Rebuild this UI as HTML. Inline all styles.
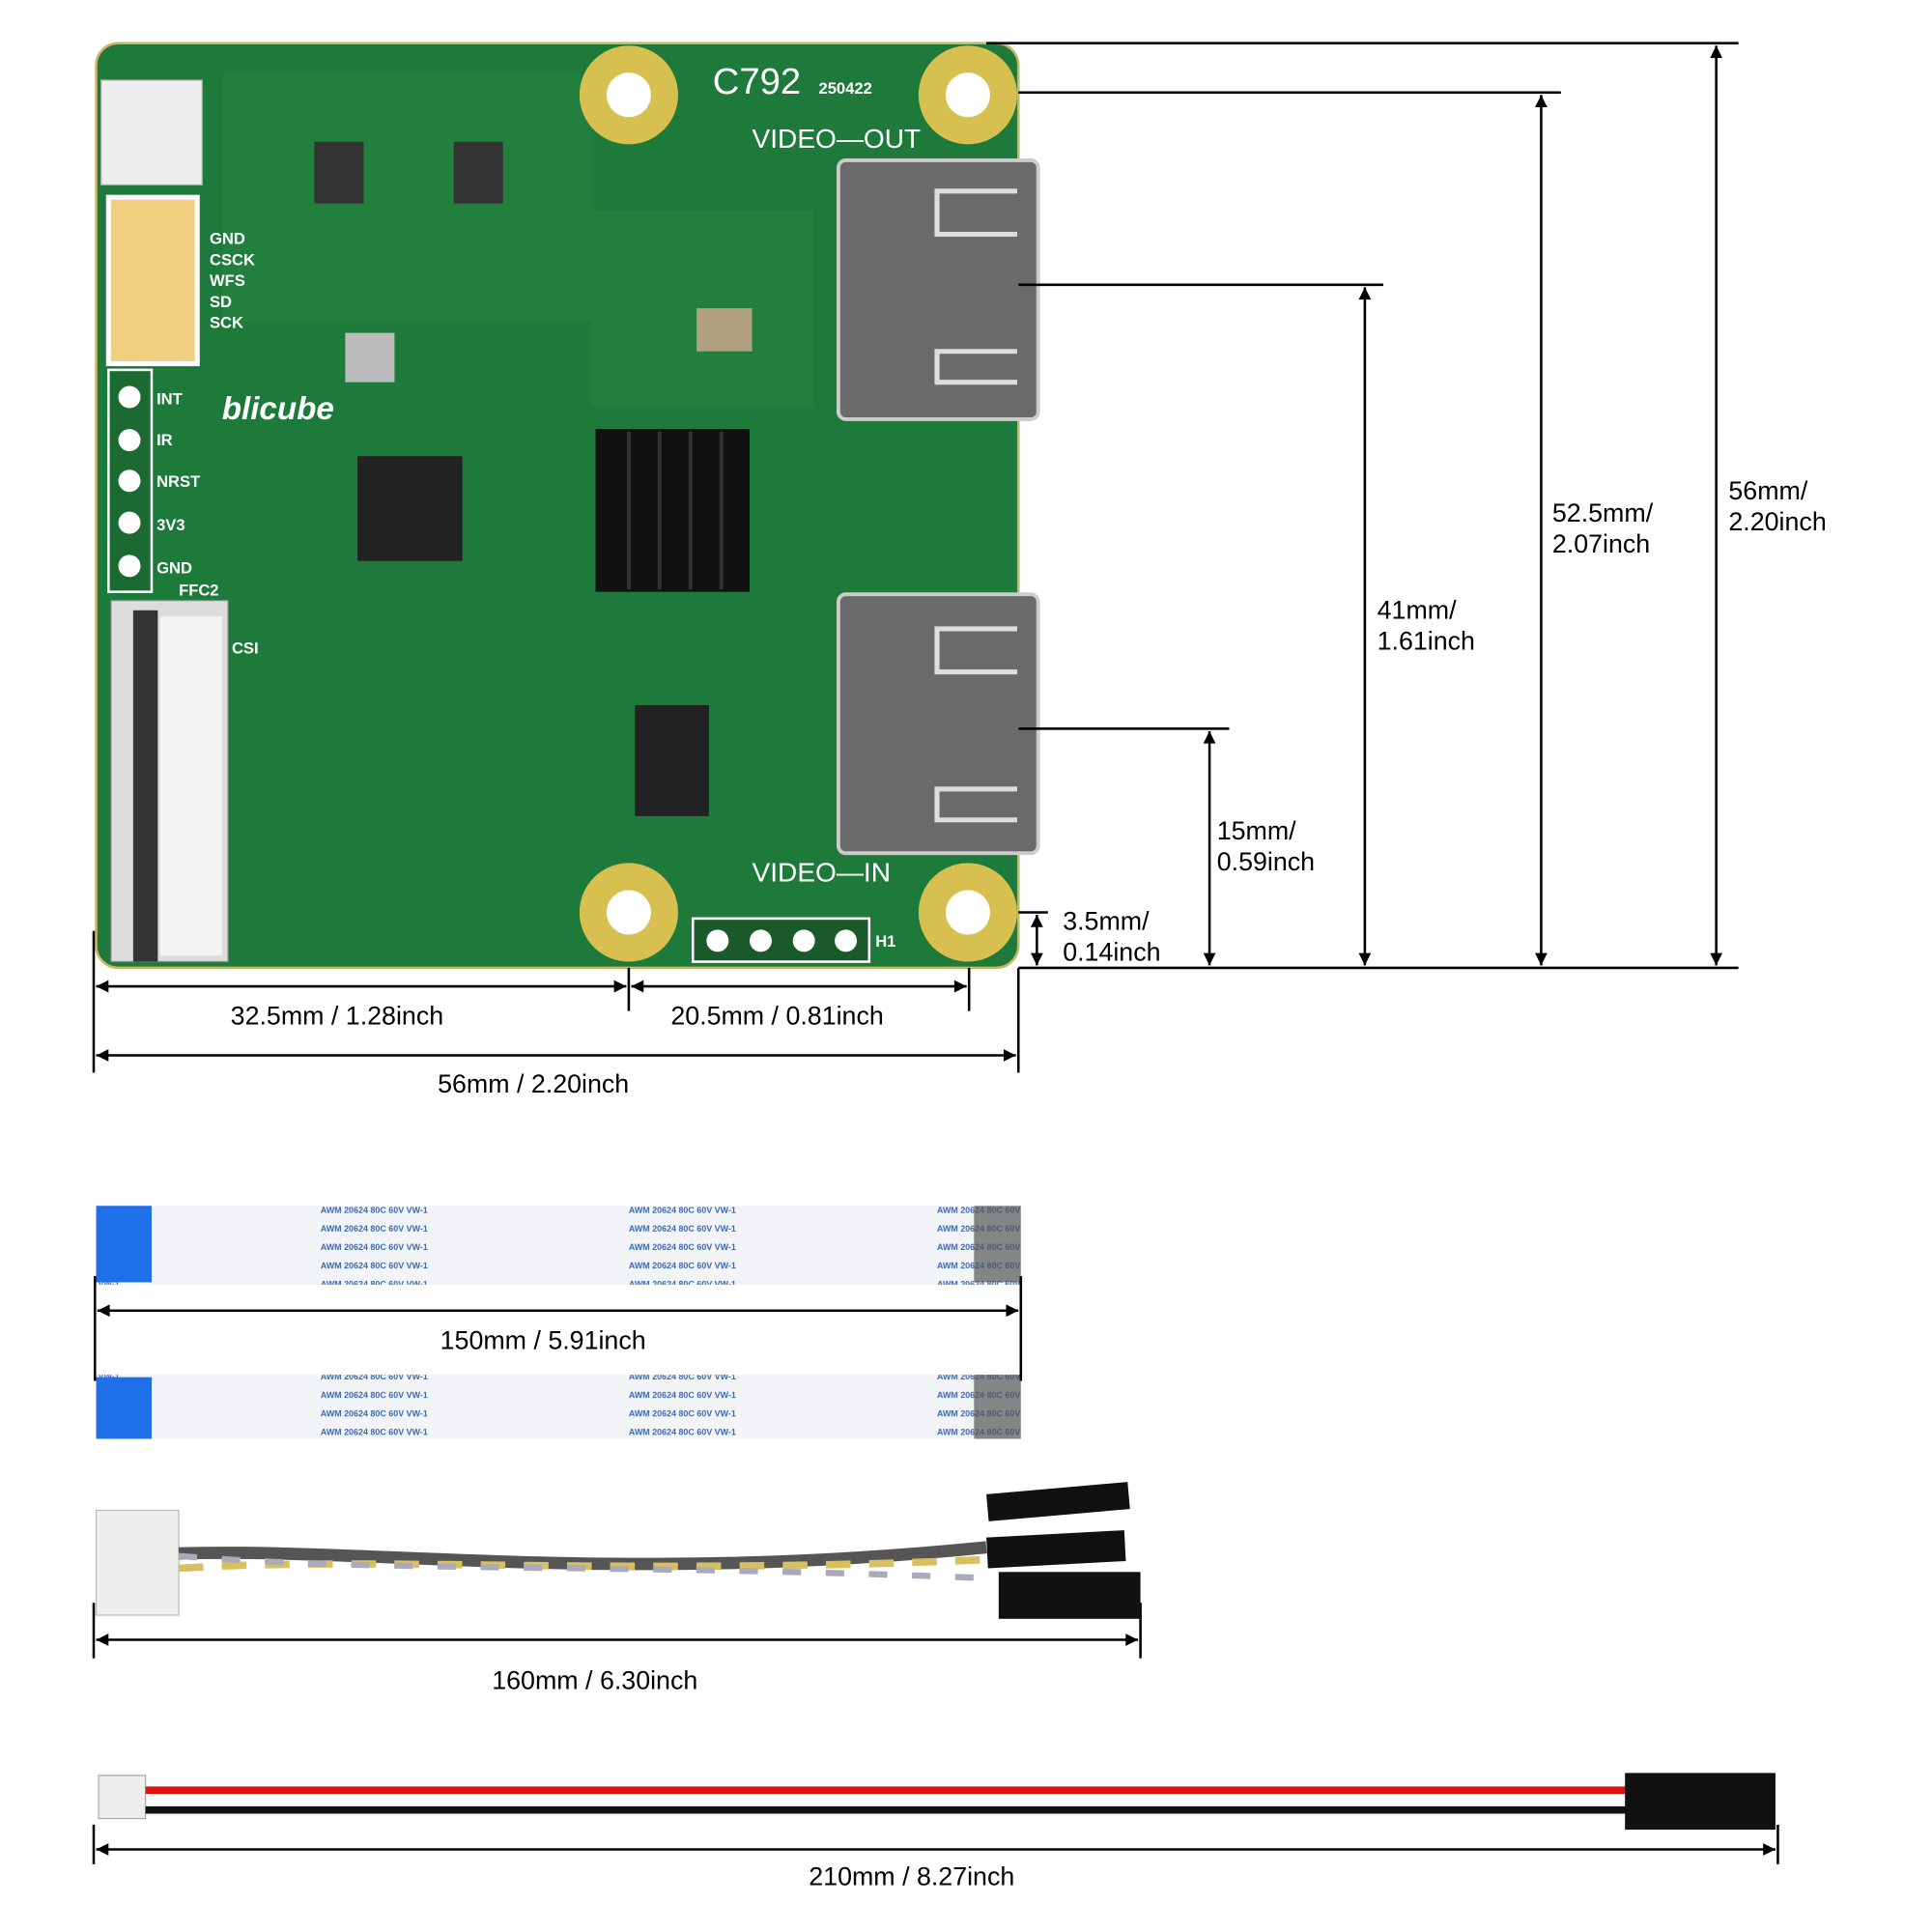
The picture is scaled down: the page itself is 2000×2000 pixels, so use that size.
<!DOCTYPE html>
<html><head><meta charset="utf-8"><style>
html,body{margin:0;padding:0;background:#fff;width:2000px;height:2000px;overflow:hidden}
svg{display:block}
text{font-family:"Liberation Sans","DejaVu Sans",sans-serif}
</style></head><body>
<svg width="2000" height="2000" viewBox="0 0 1567 1567" xmlns="http://www.w3.org/2000/svg">
<defs>
<marker id="a" viewBox="0 0 10 10" refX="10" refY="5" markerWidth="14" markerHeight="10" orient="auto-start-reverse" markerUnits="userSpaceOnUse"><path d="M0,0 L10,5 L0,10 z" fill="#000"/></marker>
<pattern id="ffc" width="250" height="15" patternUnits="userSpaceOnUse"><text x="10" y="9" font-size="7" fill="#3a6ab0" font-weight="bold">AWM  20624  80C  60V  VW-1</text></pattern>
</defs>
<rect x="78" y="35" width="748" height="750" rx="18" fill="#1e7a3a"/>
<rect x="78" y="35" width="748" height="750" rx="18" fill="none" stroke="#c9b56a" stroke-width="2"/>
<g fill="#2a8a45" opacity="0.35"><rect x="180" y="60" width="300" height="200"/><rect x="480" y="170" width="180" height="160"/></g>
<g fill="#d7c050"><circle cx="510" cy="77" r="40"/><circle cx="785" cy="77" r="40"/><circle cx="510" cy="740" r="40"/><circle cx="785" cy="740" r="40"/></g>
<g fill="#fff"><circle cx="510" cy="77" r="18"/><circle cx="785" cy="77" r="18"/><circle cx="510" cy="740" r="18"/><circle cx="785" cy="740" r="18"/></g>
<g fill="#6a6a6a" stroke="#ccc" stroke-width="3"><rect x="680" y="130" width="162" height="210" rx="6"/><rect x="680" y="482" width="162" height="210" rx="6"/></g>
<g fill="none" stroke="#ddd" stroke-width="4"><path d="M825 155 H760 V190 H825"/><path d="M825 285 H760 V310 H825"/><path d="M825 510 H760 V545 H825"/><path d="M825 640 H760 V665 H825"/></g>
<rect x="483" y="348" width="125" height="132" fill="#111"/>
<g stroke="#333" stroke-width="3"><line x1="510" y1="350" x2="510" y2="478"/><line x1="535" y1="350" x2="535" y2="478"/><line x1="560" y1="350" x2="560" y2="478"/><line x1="585" y1="350" x2="585" y2="478"/></g>
<rect x="290" y="370" width="85" height="85" fill="#222"/>
<rect x="515" y="572" width="60" height="90" fill="#222"/>
<g fill="#333"><rect x="255" y="115" width="40" height="50"/><rect x="368" y="115" width="40" height="50"/><rect x="280" y="270" width="40" height="40" fill="#bbb"/><rect x="565" y="250" width="45" height="35" fill="#b0a080"/></g>
<rect x="82" y="65" width="82" height="85" fill="#eee" stroke="#aaa"/>
<rect x="88" y="160" width="72" height="135" fill="#f0d080" stroke="#fff" stroke-width="4"/>
<rect x="88" y="300" width="35" height="180" fill="#1a6a32" stroke="#fff" stroke-width="2"/>
<g fill="#fff"><circle cx="105" cy="322" r="9"/><circle cx="105" cy="357" r="9"/><circle cx="105" cy="390" r="9"/><circle cx="105" cy="424" r="9"/><circle cx="105" cy="459" r="9"/></g>
<rect x="90" y="487" width="95" height="293" fill="#ddd" stroke="#888"/>
<rect x="108" y="495" width="20" height="285" fill="#333"/>
<rect x="130" y="500" width="50" height="275" fill="#f4f4f4"/>
<rect x="562" y="745" width="143" height="35" fill="#1a5a2a" stroke="#fff" stroke-width="2"/>
<g fill="#fff"><circle cx="582" cy="763" r="9"/><circle cx="617" cy="763" r="9"/><circle cx="652" cy="763" r="9"/><circle cx="686" cy="763" r="9"/></g>
<g fill="#fff" font-size="13" font-weight="bold">
<text x="127" y="328">INT</text><text x="127" y="361">IR</text><text x="127" y="395">NRST</text><text x="127" y="430">3V3</text><text x="127" y="465">GND</text>
<text x="170" y="198">GND</text><text x="170" y="215">CSCK</text><text x="170" y="232">WFS</text><text x="170" y="249">SD</text><text x="170" y="266">SCK</text>
<text x="180" y="340" font-size="26" font-style="italic">blicube</text>
<text x="578" y="76" font-size="30" font-weight="normal">C792</text><text x="664" y="76" font-size="13">250422</text>
<text x="610" y="120" font-size="22" font-weight="normal">VIDEO—OUT</text>
<text x="610" y="715" font-size="22" font-weight="normal">VIDEO—IN</text>
<text x="145" y="483">FFC2</text><text x="188" y="530">CSI</text><text x="710" y="768">H1</text>
</g>
<g stroke="#000" stroke-width="2" fill="none">
<line x1="800" y1="35" x2="1410" y2="35"/><line x1="826" y1="75" x2="1266" y2="75"/>
<line x1="826" y1="231" x2="1122" y2="231"/><line x1="826" y1="591" x2="997" y2="591"/>
<line x1="826" y1="785" x2="1410" y2="785"/><line x1="826" y1="785" x2="826" y2="870"/>
<line x1="826" y1="740" x2="850" y2="740"/>
<line x1="1392" y1="37" x2="1392" y2="783" marker-start="url(#a)" marker-end="url(#a)"/>
<line x1="1250" y1="77" x2="1250" y2="783" marker-start="url(#a)" marker-end="url(#a)"/>
<line x1="1107" y1="233" x2="1107" y2="783" marker-start="url(#a)" marker-end="url(#a)"/>
<line x1="981" y1="593" x2="981" y2="783" marker-start="url(#a)" marker-end="url(#a)"/>
<line x1="841" y1="742" x2="841" y2="783" marker-start="url(#a)" marker-end="url(#a)"/>
<line x1="76" y1="755" x2="76" y2="870"/><line x1="510" y1="785" x2="510" y2="820"/><line x1="786" y1="785" x2="786" y2="820"/>
<line x1="78" y1="800" x2="508" y2="800" marker-start="url(#a)" marker-end="url(#a)"/>
<line x1="512" y1="800" x2="784" y2="800" marker-start="url(#a)" marker-end="url(#a)"/>
<line x1="78" y1="856" x2="824" y2="856" marker-start="url(#a)" marker-end="url(#a)"/>
</g>
<g font-size="21" fill="#000">
<text x="1402" y="405">56mm/</text><text x="1402" y="430">2.20inch</text>
<text x="1259" y="423">52.5mm/</text><text x="1259" y="448">2.07inch</text>
<text x="1117" y="502">41mm/</text><text x="1117" y="527">1.61inch</text>
<text x="987" y="681">15mm/</text><text x="987" y="706">0.59inch</text>
<text x="862" y="754">3.5mm/</text><text x="862" y="779">0.14inch</text>
<text x="187" y="831">32.5mm / 1.28inch</text>
<text x="544" y="831">20.5mm / 0.81inch</text>
<text x="355" y="886">56mm / 2.20inch</text>
<text x="357" y="1094">150mm / 5.91inch</text>
<text x="399" y="1370">160mm / 6.30inch</text>
<text x="656" y="1529">210mm / 8.27inch</text>
</g>
<rect x="78" y="978" width="750" height="64" fill="#f2f4f8"/><rect x="78" y="978" width="750" height="64" fill="url(#ffc)"/>
<rect x="78" y="978" width="45" height="62" fill="#1f6fe8"/><rect x="790" y="978" width="38" height="62" fill="#555" opacity="0.7"/>
<rect x="78" y="1115" width="750" height="52" fill="#f2f4f8"/><rect x="78" y="1115" width="750" height="52" fill="url(#ffc)"/>
<rect x="78" y="1117" width="45" height="50" fill="#1f6fe8"/><rect x="790" y="1115" width="38" height="52" fill="#555" opacity="0.7"/>
<g stroke="#000" stroke-width="2" fill="none">
<line x1="77" y1="1035" x2="77" y2="1120"/><line x1="828" y1="1035" x2="828" y2="1120"/>
<line x1="79" y1="1063" x2="826" y2="1063" marker-start="url(#a)" marker-end="url(#a)"/>
<line x1="76" y1="1300" x2="76" y2="1345"/><line x1="925" y1="1300" x2="925" y2="1345"/>
<line x1="78" y1="1330" x2="923" y2="1330" marker-start="url(#a)" marker-end="url(#a)"/>
<line x1="76" y1="1480" x2="76" y2="1512"/><line x1="1442" y1="1480" x2="1442" y2="1512"/>
<line x1="78" y1="1500" x2="1440" y2="1500" marker-start="url(#a)" marker-end="url(#a)"/>
</g>
<rect x="78" y="1225" width="67" height="85" fill="#eee" stroke="#bbb"/>
<path d="M145 1260 C300 1255 500 1285 800 1255" stroke="#555" stroke-width="10" fill="none"/>
<path d="M145 1272 C300 1262 500 1278 800 1265" stroke="#d8c060" stroke-width="6" fill="none" stroke-dasharray="20 15"/>
<path d="M145 1262 C300 1275 500 1268 800 1280" stroke="#aab" stroke-width="5" fill="none" stroke-dasharray="15 20"/>
<g fill="#111"><rect x="800" y="1212" width="115" height="22" transform="rotate(-5 800 1212)"/><rect x="800" y="1247" width="112" height="25" transform="rotate(-3 800 1247)"/><rect x="810" y="1275" width="115" height="38"/></g>
<rect x="80" y="1440" width="38" height="35" fill="#eee" stroke="#aaa"/>
<line x1="118" y1="1452" x2="1320" y2="1452" stroke="#e01010" stroke-width="6"/>
<line x1="118" y1="1468" x2="1320" y2="1468" stroke="#111" stroke-width="6"/>
<rect x="1318" y="1438" width="122" height="46" fill="#111"/>
</svg>
</body></html>
